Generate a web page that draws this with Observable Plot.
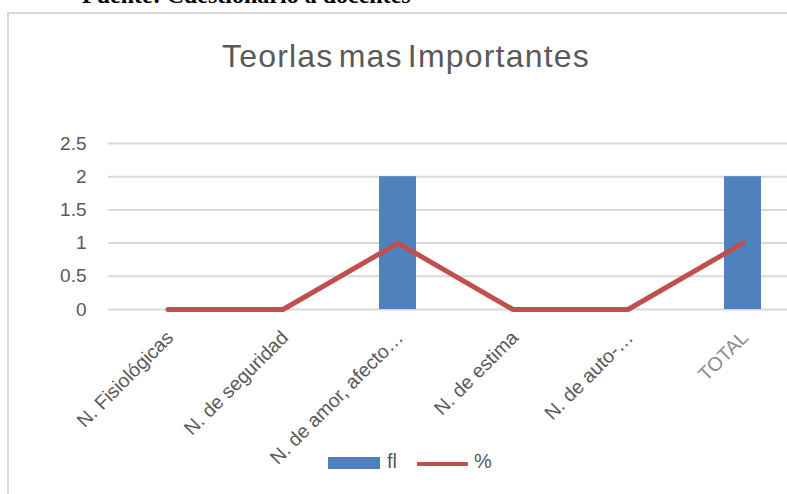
<!DOCTYPE html>
<html><head><meta charset="utf-8">
<script src="https://cdn.jsdelivr.net/npm/d3@7"></script>
<script src="https://cdn.jsdelivr.net/npm/@observablehq/plot@0.6"></script>
<style>
html{overflow:hidden;}
html,body{margin:0;padding:0;width:787px;height:494px;background:#fff;position:relative;font-family:"Liberation Sans",Arial,sans-serif;}
body{overflow:hidden;}
#src{position:absolute;left:82px;top:-17px;line-height:24px;font-family:"Liberation Serif","Times New Roman",serif;font-weight:bold;font-size:24px;color:#000;white-space:nowrap;}
#box{position:absolute;left:7px;top:12px;width:778px;height:480px;border-left:2px solid #d9d9d9;border-top:2px solid #d9d9d9;}
#title{position:absolute;left:222px;top:36px;font-size:32px;line-height:40px;color:#595959;word-spacing:-5px;letter-spacing:1.2px;white-space:nowrap;}
#chart{position:absolute;left:0;top:100px;width:787px;height:380px;overflow:hidden;}
#chart svg{max-width:none !important;width:840px;height:380px;}
.leg{position:absolute;font-size:20px;color:#595959;line-height:24px;}
</style></head>
<body>
<div id="src">Fuente: Cuestionario a docentes</div>
<div id="box"></div>
<div id="title">Teorlas mas Importantes</div>
<div id="chart"></div>
<div style="position:absolute;left:328px;top:457px;width:52px;height:12px;background:#4F81BD"></div>
<div class="leg" style="left:387px;top:449px;">fl</div>
<div style="position:absolute;left:417px;top:462px;width:51px;height:4px;background:#C0504D"></div>
<div class="leg" style="left:474px;top:449px;">%</div>
<script>
const categories = ["N. Fisiológicas","N. de seguridad","N. de amor, afecto…","N. de estima","N. de auto-…","TOTAL"];
const fl = [0,0,2,0,0,2];
const pct = [0,0,1,0,0,1];
const yTicks = [0,0.5,1,1.5,2,2.5];

const data = categories.map((c,i)=>({cat:c, fl:fl[i], pct:pct[i]}));

const chart = Plot.plot({
  width: 840, height: 380,
  marginLeft: 110, marginRight: 40, marginTop: 43, marginBottom: 171,
  style: {fontFamily: "Liberation Sans, Arial, sans-serif", background: "transparent", maxWidth: "none"},
  x: {domain: categories, padding: 0, axis: null},
  y: {domain: [0,2.5], ticks: yTicks, axis: null},
  marks: [
    Plot.ruleY(yTicks, {stroke: "#d9d9d9", strokeWidth: 2, insetLeft: -2, insetRight: -30}),
    Plot.text(yTicks, {y: d => d, text: d => String(d), frameAnchor: "left", dx: -24, textAnchor: "end", fontSize: 19, fill: "#595959"}),
    Plot.barY(data, {x: "cat", y: "fl", fill: "#4F81BD", insetLeft: 39, insetRight: 39}),
    Plot.line(data, {x: "cat", y: "pct", stroke: "#C0504D", strokeWidth: 5, strokeLinejoin: "miter"}),
    Plot.text(data, {x: "cat", y: () => 0, text: "cat", rotate: -45, textAnchor: "end", dx: 2, dy: 25, fontSize: 19.5,
      fill: d => d.cat === "TOTAL" ? "#8c8c8c" : "#595959"})
  ]
});
document.getElementById("chart").appendChild(chart);
</script>
</body></html>
